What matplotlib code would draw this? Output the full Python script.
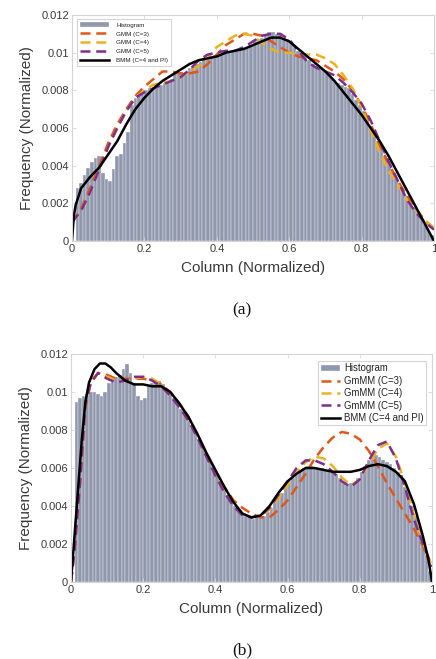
import numpy as np
import matplotlib
matplotlib.use("Agg")
import matplotlib.pyplot as plt

plt.rcParams['font.family'] = ['Liberation Sans', 'DejaVu Sans']

# ---------------- data: panel (a) ----------------
hist_a = [0.0000, 0.0028, 0.0031, 0.0035, 0.0039, 0.0042, 0.0044, 0.0045, 0.0036, 0.0033,
          0.0032, 0.0038, 0.0045, 0.0046, 0.0052, 0.0058, 0.0072, 0.0076, 0.0077, 0.0078,
          0.0080, 0.0081, 0.0081, 0.0083, 0.0083, 0.0084, 0.0084, 0.0086, 0.0089, 0.0090,
          0.0089, 0.0090, 0.0092, 0.0093, 0.0094, 0.0095, 0.0097, 0.0097, 0.0098, 0.0099,
          0.0099, 0.0100, 0.0100, 0.0100, 0.0101, 0.0101, 0.0102, 0.0102, 0.0103, 0.0104,
          0.0106, 0.0107, 0.0108, 0.0110, 0.0111, 0.0111, 0.0110, 0.0110, 0.0108, 0.0107,
          0.0105, 0.0103, 0.0101, 0.0099, 0.0098, 0.0096, 0.0094, 0.0093, 0.0092, 0.0091,
          0.0089, 0.0087, 0.0085, 0.0084, 0.0083, 0.0082, 0.0081, 0.0078, 0.0075, 0.0072,
          0.0069, 0.0065, 0.0061, 0.0058, 0.0053, 0.0049, 0.0045, 0.0041, 0.0037, 0.0034,
          0.0030, 0.0027, 0.0024, 0.0021, 0.0018, 0.0015, 0.0012, 0.0009, 0.0006, 0.0003]

x_grid = [0.0, 0.025, 0.05, 0.075, 0.1, 0.125, 0.15, 0.175, 0.2, 0.225, 0.25, 0.275, 0.3,
          0.325, 0.35, 0.375, 0.4, 0.425, 0.45, 0.475, 0.5, 0.525, 0.55, 0.575, 0.6, 0.625,
          0.65, 0.675, 0.7, 0.725, 0.75, 0.775, 0.8, 0.825, 0.85, 0.875, 0.9, 0.925, 0.95,
          0.975, 1.0]

gmm3_a = [0.0010, 0.0017, 0.0028, 0.0040, 0.0052, 0.0062, 0.0070, 0.0077, 0.0082, 0.0086,
          0.0090, 0.0090, 0.0089, 0.0089, 0.0090, 0.0094, 0.0099, 0.0104, 0.0107, 0.0110,
          0.0110, 0.0109, 0.0106, 0.0103, 0.0100, 0.0098, 0.0097, 0.0096, 0.0093, 0.0090,
          0.0086, 0.0080, 0.0072, 0.0062, 0.0051, 0.0041, 0.0032, 0.0024, 0.0017, 0.0011,
          0.0006]
gmm4_a = [0.0010, 0.0016, 0.0026, 0.0038, 0.0050, 0.0060, 0.0069, 0.0076, 0.0080, 0.0083,
          0.0084, 0.0085, 0.0087, 0.0090, 0.0093, 0.0097, 0.0103, 0.0106, 0.0109, 0.0110,
          0.0109, 0.0105, 0.0102, 0.0100, 0.0100, 0.0099, 0.0099, 0.0099, 0.0097, 0.0094,
          0.0088, 0.0081, 0.0071, 0.0059, 0.0047, 0.0037, 0.0030, 0.0022, 0.0016, 0.0011,
          0.0007]
gmm5_a = [0.0010, 0.0016, 0.0026, 0.0038, 0.0050, 0.0060, 0.0069, 0.0076, 0.0079, 0.0081,
          0.0083, 0.0085, 0.0087, 0.0091, 0.0096, 0.0099, 0.0100, 0.0101, 0.0101, 0.0103,
          0.0106, 0.0109, 0.0110, 0.0110, 0.0107, 0.0101, 0.0095, 0.0092, 0.0090, 0.0088,
          0.0084, 0.0079, 0.0073, 0.0064, 0.0053, 0.0042, 0.0032, 0.0022, 0.0015, 0.0010,
          0.0006]

bmm_a_x = [0.0, 0.005, 0.01, 0.025, 0.05, 0.075, 0.1, 0.125, 0.15, 0.175, 0.2, 0.225, 0.25,
           0.275, 0.3, 0.325, 0.35, 0.375, 0.4, 0.425, 0.45, 0.475, 0.5, 0.525, 0.55, 0.575,
           0.6, 0.625, 0.65, 0.675, 0.7, 0.725, 0.75, 0.775, 0.8, 0.825, 0.85, 0.875, 0.9,
           0.925, 0.95, 0.975, 1.0]
bmm_a_y = [0.0, 0.0013, 0.0019, 0.0028, 0.0034, 0.0039, 0.0046, 0.0053, 0.0062, 0.0070,
           0.0076, 0.0081, 0.0085, 0.0088, 0.0091, 0.0094, 0.0096, 0.0097, 0.0098, 0.0100,
           0.0101, 0.0102, 0.0104, 0.0106, 0.0108, 0.0108, 0.0106, 0.0102, 0.0098, 0.0094,
           0.0090, 0.0085, 0.0079, 0.0073, 0.0067, 0.0060, 0.0053, 0.0045, 0.0036, 0.0027,
           0.0018, 0.0009, 0.0]

# ---------------- data: panel (b) ----------------
hist_b = [0.0000, 0.0095, 0.0097, 0.0098, 0.0099, 0.0100, 0.0100, 0.0099, 0.0098, 0.0100,
          0.0105, 0.0106, 0.0108, 0.0109, 0.0112, 0.0115, 0.0110, 0.0105, 0.0098, 0.0096,
          0.0097, 0.0103, 0.0105, 0.0106, 0.0106, 0.0104, 0.0102, 0.0100, 0.0097, 0.0094,
          0.0091, 0.0088, 0.0085, 0.0081, 0.0078, 0.0075, 0.0071, 0.0067, 0.0063, 0.0059,
          0.0056, 0.0053, 0.0049, 0.0046, 0.0043, 0.0040, 0.0038, 0.0036, 0.0035, 0.0034,
          0.0033, 0.0034, 0.0034, 0.0035, 0.0037, 0.0039, 0.0042, 0.0044, 0.0047, 0.0050,
          0.0053, 0.0055, 0.0057, 0.0059, 0.0060, 0.0061, 0.0061, 0.0060, 0.0060, 0.0060,
          0.0059, 0.0058, 0.0058, 0.0057, 0.0055, 0.0052, 0.0051, 0.0052, 0.0052, 0.0055,
          0.0058, 0.0061, 0.0064, 0.0066, 0.0067, 0.0066, 0.0064, 0.0063, 0.0062, 0.0060,
          0.0058, 0.0055, 0.0050, 0.0045, 0.0040, 0.0035, 0.0029, 0.0022, 0.0014, 0.0006]

xb_grid = [0.0, 0.01, 0.025, 0.04, 0.055, 0.075, 0.1, 0.125, 0.15, 0.175, 0.2, 0.225, 0.25,
           0.275, 0.3, 0.325, 0.35, 0.375, 0.4, 0.425, 0.45, 0.475, 0.5, 0.525, 0.55, 0.575,
           0.6, 0.625, 0.65, 0.675, 0.7, 0.725, 0.75, 0.775, 0.8, 0.825, 0.85, 0.875, 0.9,
           0.925, 0.95, 0.975, 1.0]
gmm3_b = [0.0, 0.0017, 0.0052, 0.0092, 0.0105, 0.0110, 0.0109, 0.0107, 0.0107, 0.0107,
          0.0107, 0.0106, 0.0104, 0.0100, 0.0094, 0.0087, 0.0077, 0.0067, 0.0058, 0.0050,
          0.0043, 0.0039, 0.0036, 0.0034, 0.0034, 0.0038, 0.0043, 0.0050, 0.0057, 0.0065,
          0.0071, 0.0076, 0.0079, 0.0078, 0.0075, 0.0069, 0.0061, 0.0052, 0.0044, 0.0036,
          0.0028, 0.0019, 0.0006]
gmm4_b = [0.0, 0.0017, 0.0052, 0.0094, 0.0106, 0.0110, 0.0108, 0.0106, 0.0106, 0.0107,
          0.0108, 0.0107, 0.0104, 0.0099, 0.0093, 0.0085, 0.0077, 0.0067, 0.0057, 0.0048,
          0.0041, 0.0036, 0.0034, 0.0035, 0.0038, 0.0044, 0.0051, 0.0058, 0.0063, 0.0066,
          0.0065, 0.0061, 0.0055, 0.0051, 0.0054, 0.0062, 0.0070, 0.0073, 0.0066, 0.0052,
          0.0035, 0.0021, 0.0008]
gmm5_b = [0.0, 0.0017, 0.0052, 0.0094, 0.0105, 0.0110, 0.0107, 0.0105, 0.0106, 0.0108,
          0.0108, 0.0106, 0.0103, 0.0098, 0.0092, 0.0085, 0.0076, 0.0066, 0.0056, 0.0047,
          0.0040, 0.0035, 0.0034, 0.0035, 0.0039, 0.0046, 0.0053, 0.0060, 0.0064, 0.0064,
          0.0062, 0.0058, 0.0053, 0.0050, 0.0054, 0.0064, 0.0072, 0.0074, 0.0065, 0.0050,
          0.0033, 0.0020, 0.0008]

bmm_b_x = [0.0, 0.01, 0.02, 0.03, 0.04, 0.05, 0.065, 0.08, 0.095, 0.11, 0.125, 0.15, 0.175,
           0.2, 0.225, 0.25, 0.275, 0.3, 0.325, 0.35, 0.375, 0.4, 0.425, 0.45, 0.475, 0.5,
           0.525, 0.55, 0.575, 0.6, 0.625, 0.65, 0.675, 0.7, 0.725, 0.75, 0.775, 0.8, 0.825,
           0.85, 0.875, 0.9, 0.925, 0.95, 0.975, 0.99, 1.0]
bmm_b_y = [0.0, 0.0025, 0.0050, 0.0075, 0.0095, 0.0105, 0.0112, 0.0115, 0.0115, 0.0113,
           0.0110, 0.0106, 0.0104, 0.0104, 0.0103, 0.0103, 0.0100, 0.0094, 0.0087, 0.0078,
           0.0068, 0.0059, 0.0050, 0.0042, 0.0036, 0.0034, 0.0035, 0.0040, 0.0047, 0.0053,
           0.0057, 0.0060, 0.0060, 0.0059, 0.0058, 0.0058, 0.0058, 0.0059, 0.0061, 0.0062,
           0.0061, 0.0058, 0.0053, 0.0041, 0.0024, 0.0012, 0.0]

x_ticks = [0, 0.2, 0.4, 0.6, 0.8, 1]
x_ticklabels = ['0', '0.2', '0.4', '0.6', '0.8', '1']
y_ticks = [0, 0.002, 0.004, 0.006, 0.008, 0.01, 0.012]
y_ticklabels = ['0', '0.002', '0.004', '0.006', '0.008', '0.01', '0.012']

labels_a = ['Histogram', 'GMM (C=3)', 'GMM (C=4)', 'GMM (C=5)', 'BMM (C=4 and PI)']
labels_b = ['Histogram', 'GmMM (C=3)', 'GmMM (C=4)', 'GmMM (C=5)', 'BMM (C=4 and PI)']

C_RED = '#E0561B'
C_YEL = '#EDB120'
C_PUR = '#7E2F8E'
C_BAR = '#9098AD'
C_SPINE = '#D4D4D4'
C_TXT = '#3A3A3A'

W, H = 436, 659
fig = plt.figure(figsize=(W / 100, H / 100), dpi=100)


def px_axes(l, t, r, b):
    return fig.add_axes([l / W, 1 - b / H, (r - l) / W, (b - t) / H])


def draw(ax, hist, xg3, g3, xg4, g4, xg5, g5, bx, by, labels, small):
    n = len(hist)
    edges = np.linspace(0, 1, n + 1)
    centers = (edges[:-1] + edges[1:]) / 2
    bars = ax.bar(centers, hist, width=1.0 / n, color=C_BAR, edgecolor='white',
                  linewidth=0.25)
    dash = (0, (4.0, 2.3))
    l3, = ax.plot(xg3, g3, color=C_RED, lw=1.8, ls=dash)
    l4, = ax.plot(xg4, g4, color=C_YEL, lw=1.8, ls=dash)
    l5, = ax.plot(xg5, g5, color=C_PUR, lw=1.8, ls=dash)
    lb, = ax.plot(bx, by, color='black', lw=1.8)
    ax.set_xlim(0, 1)
    ax.set_ylim(0, 0.012)
    ax.set_xticks(x_ticks)
    ax.set_xticklabels(x_ticklabels)
    ax.set_yticks(y_ticks)
    ax.set_yticklabels(y_ticklabels)
    ax.tick_params(direction='in', length=3, width=0.6, color=C_SPINE,
                   labelcolor=C_TXT, labelsize=8, top=True, right=True, pad=2)
    for s in ax.spines.values():
        s.set_color(C_SPINE)
        s.set_linewidth(0.8)
    ax.set_xlabel('Column (Normalized)', fontsize=11, color=C_TXT, labelpad=5)
    ax.set_ylabel('Frequency (Normalized)', fontsize=11, color=C_TXT)
    handles = [bars, l3, l4, l5, lb]
    if small:
        leg = ax.legend(handles, labels, loc='upper left', fontsize=4.5,
                        handlelength=4.6, handletextpad=1.2, borderpad=0.5,
                        labelspacing=0.55, fancybox=False, edgecolor=C_SPINE,
                        framealpha=1, bbox_to_anchor=(0.005, 0.995))
    else:
        leg = ax.legend(handles, labels, loc='upper right', fontsize=6.9,
                        handlelength=2.0, handletextpad=0.5, borderpad=0.25,
                        labelspacing=0.25, fancybox=False, edgecolor=C_SPINE,
                        framealpha=1, bbox_to_anchor=(0.998, 0.99))
    leg.get_frame().set_linewidth(0.8)
    for t in leg.get_texts():
        t.set_color('#222222')


ax1 = px_axes(72, 15, 434, 241)
draw(ax1, hist_a, x_grid, gmm3_a, x_grid, gmm4_a, x_grid, gmm5_a, bmm_a_x, bmm_a_y,
     labels_a, True)
ax1.yaxis.set_label_coords(-0.105, 0.5)

ax2 = px_axes(71, 354, 432, 582)
draw(ax2, hist_b, xb_grid, gmm3_b, xb_grid, gmm4_b, xb_grid, gmm5_b, bmm_b_x, bmm_b_y,
     labels_b, False)
ax2.yaxis.set_label_coords(-0.105, 0.5)

fig.text(242 / W, 1 - 310 / H, '(a)', fontsize=12.5, family='Liberation Serif',
         ha='center', va='center', color='#111111')
fig.text(242 / W, 1 - 650 / H, '(b)', fontsize=12.5, family='Liberation Serif',
         ha='center', va='center', color='#111111')

fig.savefig('out.png', dpi=100)
